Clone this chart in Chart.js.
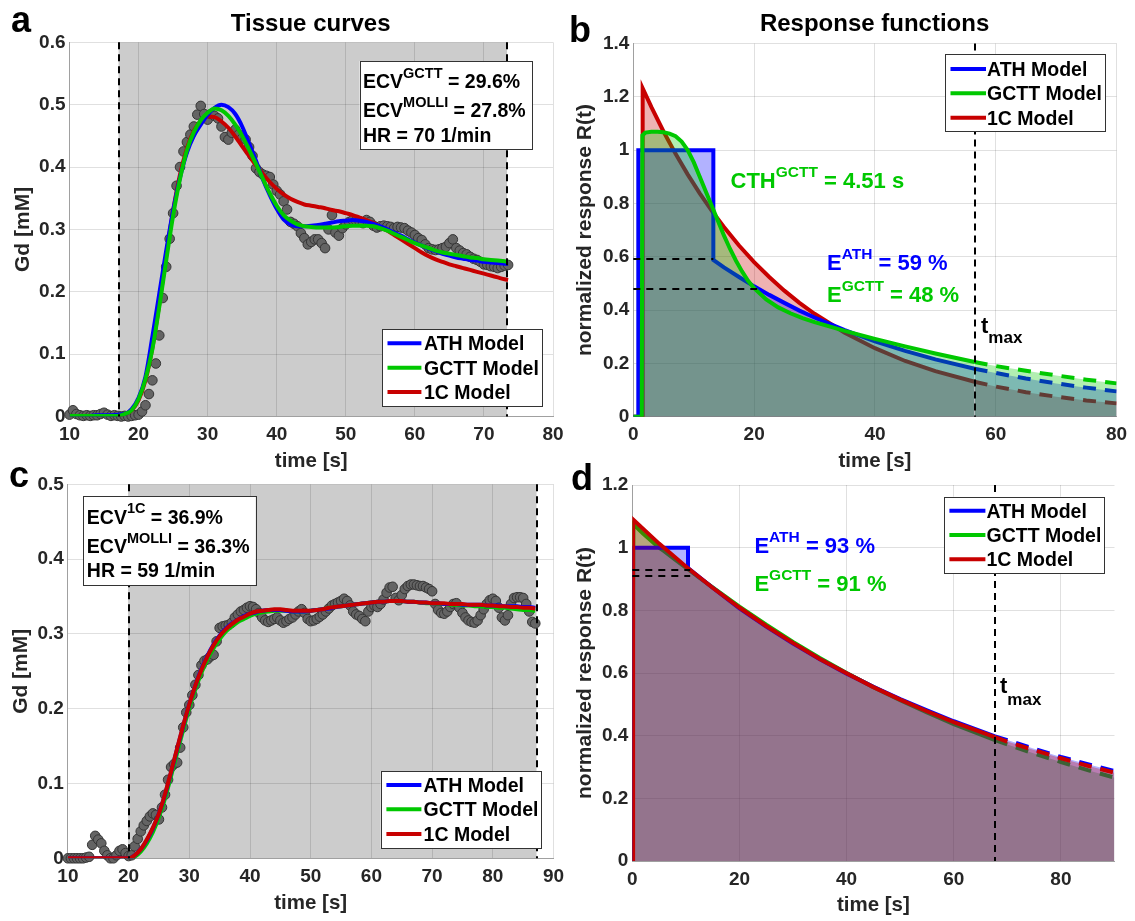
<!DOCTYPE html>
<html>
<head>
<meta charset="utf-8">
<title>Tissue curves and response functions</title>
<script src="https://cdn.jsdelivr.net/npm/chart.js@4.4.1/dist/chart.umd.min.js"></script>
<style>
html,body{margin:0;padding:0;background:#ffffff;}
#wrap{position:relative;width:1135px;height:921px;overflow:hidden;background:#ffffff;}
#wrap canvas{position:absolute;left:0;top:0;}
</style>
</head>
<body>
<div id="wrap">
<canvas id="pa" width="1135" height="921"></canvas>
<canvas id="pb" width="1135" height="921"></canvas>
<canvas id="pc" width="1135" height="921"></canvas>
<canvas id="pd" width="1135" height="921"></canvas>
</div>
<script>
// ---------------- DATA ----------------
const MODEL_LABELS = ['ATH Model', 'GCTT Model', '1C Model'];

// Panel a : tissue curve 1
const A_X_TICKS = [10, 20, 30, 40, 50, 60, 70, 80];
const A_X_LABELS = ['10', '20', '30', '40', '50', '60', '70', '80'];
const A_Y_TICKS = [0, 0.1, 0.2, 0.3, 0.4, 0.5, 0.6];
const A_Y_LABELS = ['0', '0.1', '0.2', '0.3', '0.4', '0.5', '0.6'];
const A_WINDOW = [17.1, 73.35];
const A_PT_T = [
  10,10.5,11,11.5,12,12.5,13,13.5,14,14.5,
  15,15.5,16,16.5,17,17.5,18,18.5,19,19.5,
  20,20.5,21,21.5,22,22.5,23,23.5,24,24.5,
  25,25.5,26,26.5,27,27.5,28,28.5,29,29.5,
  30,30.5,31,31.5,32,32.5,33,33.5,34,34.5,
  35,35.5,36,36.5,37,37.5,38,38.5,39,39.5,
  40,40.5,41,41.5,42,42.5,43,43.5,44,44.5,
  45,45.5,46,46.5,47,47.5,48,48.5,49,49.5,
  50,50.5,51,51.5,52,52.5,53,53.5,54,54.5,
  55,55.5,56,56.5,57,57.5,58,58.5,59,59.5,
  60,60.5,61,61.5,62,62.5,63,63.5,64,64.5,
  65,65.5,66,66.5,67,67.5,68,68.5,69,69.5,
  70,70.5,71,71.5,72,72.5,73,73.5];
const A_PT_Y = [
  0.003,0.010,0.004,0.002,0.001,0.002,0.001,0.002,0.002,0.004,
  0.006,0.003,0.001,0.002,0.001,0.000,0.001,0.000,0.001,0.002,
  0.003,0.008,0.018,0.036,0.058,0.085,0.130,0.190,0.240,0.285,
  0.326,0.370,0.400,0.425,0.440,0.452,0.465,0.484,0.498,0.485,
  0.476,0.485,0.482,0.478,0.465,0.448,0.444,0.455,0.460,0.452,
  0.446,0.444,0.432,0.418,0.398,0.392,0.388,0.386,0.384,0.372,
  0.362,0.356,0.345,0.332,0.312,0.309,0.305,0.294,0.286,0.276,
  0.280,0.284,0.284,0.278,0.270,0.300,0.323,0.295,0.290,0.302,
  0.308,0.312,0.315,0.314,0.313,0.310,0.315,0.312,0.306,0.303,
  0.305,0.306,0.305,0.304,0.302,0.304,0.303,0.302,0.298,0.295,
  0.291,0.286,0.283,0.276,0.270,0.268,0.267,0.268,0.270,0.272,
  0.278,0.284,0.270,0.266,0.262,0.260,0.256,0.253,0.251,0.248,
  0.244,0.243,0.241,0.240,0.238,0.240,0.242,0.243];
const A_FIT_T = [
  10,11,12,13,14,15,16,17,18,19,
  20,21,22,23,24,25,26,27,28,29,
  30,31,32,33,34,35,36,37,38,39,
  40,41,42,43,44,45,46,47,48,49,
  50,51,52,53,54,55,56,57,58,59,
  60,61,62,63,64,65,66,67,68,69,
  70,71,72,73,73.5];
const A_ATH = [
  0.001,0.001,0.001,0.001,0.002,0.002,0.002,0.003,0.004,0.012,
  0.030,0.064,0.128,0.197,0.266,0.330,0.383,0.423,0.450,0.468,
  0.484,0.495,0.500,0.496,0.485,0.465,0.438,0.410,0.380,0.355,
  0.333,0.316,0.308,0.305,0.305,0.306,0.307,0.309,0.311,0.313,
  0.314,0.315,0.314,0.312,0.309,0.305,0.300,0.295,0.290,0.284,
  0.279,0.274,0.269,0.265,0.261,0.258,0.255,0.253,0.251,0.250,
  0.248,0.247,0.246,0.245,0.245];
const A_GCTT = [
  0.001,0.001,0.001,0.001,0.001,0.001,0.001,0.001,0.004,0.010,
  0.028,0.060,0.108,0.176,0.250,0.322,0.381,0.427,0.456,0.475,
  0.487,0.494,0.491,0.482,0.468,0.450,0.428,0.405,0.381,0.358,
  0.338,0.323,0.314,0.308,0.305,0.304,0.303,0.303,0.303,0.304,
  0.305,0.306,0.306,0.306,0.305,0.302,0.298,0.293,0.288,0.283,
  0.278,0.274,0.270,0.266,0.263,0.261,0.259,0.257,0.255,0.254,
  0.252,0.251,0.250,0.249,0.248];
const A_1C = [
  0.001,0.001,0.001,0.001,0.001,0.001,0.001,0.001,0.004,0.010,
  0.026,0.058,0.110,0.180,0.258,0.330,0.388,0.430,0.458,0.474,
  0.481,0.480,0.473,0.463,0.449,0.433,0.418,0.403,0.389,0.376,
  0.365,0.356,0.349,0.344,0.340,0.338,0.336,0.334,0.331,0.329,
  0.326,0.323,0.319,0.315,0.310,0.304,0.298,0.291,0.284,0.277,
  0.270,0.263,0.257,0.252,0.248,0.244,0.241,0.238,0.235,0.232,
  0.229,0.226,0.223,0.220,0.219];
const A_INFO = ['29.6%', '27.8%', '70 1/min'];

// Panel b : response functions 1
const B_X_TICKS = [0, 20, 40, 60, 80];
const B_X_LABELS = ['0', '20', '40', '60', '80'];
const B_Y_TICKS = [0, 0.2, 0.4, 0.6, 0.8, 1, 1.2, 1.4];
const B_Y_LABELS = ['0', '0.2', '0.4', '0.6', '0.8', '1', '1.2', '1.4'];
const B_TMAX = 56.5;
const B_ATH_T = [0, 0.83, 0.83, 13.25, 13.25, 15, 17.5, 20, 22.5, 25, 27.5, 30, 35, 40, 45, 50, 56.5, 60, 65, 70, 75, 80];
const B_ATH   = [0, 0, 1.0, 1.0, 0.588, 0.560, 0.524, 0.489, 0.457, 0.427, 0.398, 0.372, 0.325, 0.283, 0.247, 0.215, 0.180, 0.164, 0.143, 0.125, 0.109, 0.095];
const B_GCTT_T = [0, 1.4, 1.5, 2, 3, 4, 5, 6, 7, 8, 9, 10, 11, 12, 13, 14, 15, 16, 17, 18, 19, 20, 22, 24, 26, 28, 30, 35, 40, 45, 50, 56.5, 60, 65, 70, 75, 80];
const B_GCTT   = [0, 0, 1.055, 1.066, 1.069, 1.069, 1.067, 1.062, 1.052, 1.032, 1.0, 0.955, 0.9, 0.845, 0.79, 0.735, 0.68, 0.63, 0.585, 0.545, 0.51, 0.482, 0.44, 0.41, 0.388, 0.37, 0.355, 0.322, 0.292, 0.264, 0.237, 0.205, 0.19, 0.172, 0.155, 0.139, 0.125];
const B_1C_T = [0, 1.5, 1.55, 3, 5, 7, 9, 11, 13, 15, 17.5, 20, 22.5, 25, 27.5, 30, 35, 40, 45, 50, 56.5, 60, 65, 70, 75, 80];
const B_1C   = [0, 0, 1.232, 1.161, 1.070, 0.986, 0.909, 0.838, 0.772, 0.712, 0.642, 0.580, 0.524, 0.473, 0.427, 0.386, 0.315, 0.257, 0.209, 0.171, 0.131, 0.113, 0.092, 0.075, 0.061, 0.050];
const B_E = [0.59, 0.48];
const B_E_END = [13.25, 20.5];
const B_E_TEXT = ['59 %', '48 %'];
const B_CTH = '4.51 s';

// Panel c : tissue curve 2
const C_X_TICKS = [10, 20, 30, 40, 50, 60, 70, 80, 90];
const C_X_LABELS = ['10', '20', '30', '40', '50', '60', '70', '80', '90'];
const C_Y_TICKS = [0, 0.1, 0.2, 0.3, 0.4, 0.5];
const C_Y_LABELS = ['0', '0.1', '0.2', '0.3', '0.4', '0.5'];
const C_WINDOW = [20, 87.2];
const C_PT_T = [
  10,10.5,11,11.5,12,12.5,13,13.5,14,14.5,
  15,15.5,16,16.5,17,17.5,18,18.5,19,19.5,
  20,20.5,21,21.5,22,22.5,23,23.5,24,24.5,
  25,25.5,26,26.5,27,27.5,28,28.5,29,29.5,
  30,30.5,31,31.5,32,32.5,33,33.5,34,34.5,
  35,35.5,36,36.5,37,37.5,38,38.5,39,39.5,
  40,40.5,41,41.5,42,42.5,43,43.5,44,44.5,
  45,45.5,46,46.5,47,47.5,48,48.5,49,49.5,
  50,50.5,51,51.5,52,52.5,53,53.5,54,54.5,
  55,55.5,56,56.5,57,57.5,58,58.5,59,59.5,
  60,60.5,61,61.5,62,62.5,63,63.5,64,64.5,
  65,65.5,66,66.5,67,67.5,68,68.5,69,69.5,
  70,70.5,71,71.5,72,72.5,73,73.5,74,74.5,
  75,75.5,76,76.5,77,77.5,78,78.5,79,79.5,
  80,80.5,81,81.5,82,82.5,83,83.5,84,84.5,
  85,85.5,86,86.5,87];
const C_PT_Y = [
  0.000,0.000,0.000,0.000,0.000,0.000,0.001,0.002,0.018,0.030,
  0.025,0.020,0.010,0.004,0.000,0.000,0.004,0.010,0.012,0.007,
  0.003,0.004,0.016,0.026,0.036,0.044,0.050,0.056,0.060,0.058,
  0.052,0.068,0.085,0.105,0.122,0.126,0.128,0.148,0.175,0.195,
  0.205,0.218,0.232,0.245,0.258,0.264,0.266,0.270,0.272,0.290,
  0.308,0.310,0.311,0.312,0.315,0.322,0.326,0.330,0.332,0.335,
  0.337,0.336,0.333,0.328,0.322,0.318,0.316,0.318,0.320,0.322,
  0.318,0.315,0.317,0.320,0.322,0.326,0.330,0.333,0.328,0.320,
  0.317,0.318,0.320,0.323,0.326,0.330,0.334,0.338,0.340,0.342,
  0.344,0.347,0.344,0.338,0.330,0.326,0.324,0.320,0.317,0.330,
  0.336,0.338,0.336,0.340,0.346,0.355,0.362,0.363,0.348,0.345,
  0.352,0.360,0.364,0.366,0.366,0.365,0.364,0.364,0.362,0.360,
  0.357,0.340,0.332,0.328,0.327,0.330,0.336,0.340,0.341,0.335,
  0.328,0.322,0.318,0.316,0.315,0.318,0.325,0.333,0.340,0.345,
  0.347,0.344,0.335,0.322,0.318,0.325,0.340,0.348,0.349,0.349,
  0.348,0.340,0.330,0.316,0.314];
const C_FIT_T = [
  10,11,12,13,14,15,16,17,18,19,
  20,21,22,23,24,25,26,27,28,29,
  30,31,32,33,34,35,36,37,38,39,
  40,41,42,43,44,45,46,47,48,49,
  50,51,52,53,54,55,56,57,58,59,
  60,61,62,63,64,65,66,67,68,69,
  70,71,72,73,74,75,76,77,78,79,
  80,81,82,83,84,85,86,87];
const C_ATH = [
  0,0,0,0,0,0,0,0,0,0,
  0.000,0.004,0.012,0.024,0.040,0.060,0.085,0.115,0.146,0.177,
  0.206,0.231,0.253,0.271,0.286,0.298,0.307,0.314,0.319,0.324,
  0.327,0.329,0.331,0.332,0.332,0.332,0.331,0.330,0.330,0.330,
  0.331,0.332,0.333,0.334,0.336,0.337,0.338,0.339,0.340,0.341,
  0.342,0.343,0.343,0.344,0.344,0.344,0.343,0.343,0.342,0.342,
  0.341,0.341,0.340,0.340,0.340,0.339,0.339,0.339,0.339,0.338,
  0.338,0.338,0.337,0.337,0.337,0.336,0.336,0.335];
const C_GCTT = [
  0,0,0,0,0,0,0,0,0,0,
  0.000,0.002,0.009,0.020,0.035,0.055,0.080,0.110,0.141,0.172,
  0.201,0.226,0.248,0.266,0.281,0.293,0.303,0.310,0.316,0.320,
  0.324,0.327,0.329,0.330,0.331,0.331,0.331,0.330,0.330,0.330,
  0.331,0.332,0.333,0.335,0.336,0.337,0.338,0.339,0.340,0.341,
  0.342,0.343,0.343,0.344,0.344,0.344,0.343,0.343,0.342,0.341,
  0.341,0.340,0.340,0.339,0.339,0.338,0.338,0.337,0.337,0.336,
  0.336,0.335,0.335,0.334,0.333,0.332,0.332,0.331];
const C_1C = [
  0,0,0,0,0,0,0,0,0,0,
  0.000,0.004,0.012,0.025,0.041,0.060,0.086,0.116,0.147,0.178,
  0.206,0.231,0.252,0.270,0.285,0.297,0.306,0.313,0.319,0.323,
  0.327,0.330,0.331,0.332,0.333,0.333,0.332,0.331,0.331,0.331,
  0.331,0.332,0.333,0.335,0.336,0.337,0.338,0.339,0.340,0.341,
  0.342,0.343,0.343,0.344,0.344,0.344,0.343,0.343,0.342,0.342,
  0.341,0.341,0.341,0.340,0.340,0.340,0.339,0.339,0.339,0.338,
  0.338,0.337,0.337,0.336,0.336,0.335,0.335,0.334];
const C_INFO = ['36.9%', '36.3%', '59 1/min'];

// Panel d : response functions 2
const D_X_TICKS = [0, 20, 40, 60, 80];
const D_X_LABELS = ['0', '20', '40', '60', '80'];
const D_Y_TICKS = [0, 0.2, 0.4, 0.6, 0.8, 1, 1.2];
const D_Y_LABELS = ['0', '0.2', '0.4', '0.6', '0.8', '1', '1.2'];
const D_TMAX = 67.7;
const D_ATH_T = [0, 0, 10.4, 10.4, 15, 20, 25, 30, 35, 40, 45, 50, 55, 60, 67.7, 70, 75, 80, 85, 90];
const D_ATH   = [0, 1.0, 1.0, 0.935, 0.872, 0.806, 0.748, 0.694, 0.644, 0.598, 0.556, 0.517, 0.481, 0.446, 0.398, 0.386, 0.358, 0.332, 0.309, 0.287];
const D_GCTT_T = [0, 0.2, 1, 2, 3, 4, 5, 6, 8, 10, 12.5, 15, 20, 25, 30, 35, 40, 45, 50, 55, 60, 67.7, 70, 75, 80, 85, 90];
const D_GCTT   = [0, 1.075, 1.062, 1.045, 1.03, 1.015, 1.0, 0.988, 0.962, 0.936, 0.904, 0.873, 0.812, 0.754, 0.699, 0.648, 0.600, 0.555, 0.513, 0.474, 0.437, 0.386, 0.372, 0.343, 0.316, 0.290, 0.266];
const D_1C_T = [0.15, 0.15, 5, 10, 15, 20, 25, 30, 35, 40, 45, 50, 55, 60, 67.7, 70, 75, 80, 85, 90];
const D_1C   = [0, 1.09, 1.013, 0.940, 0.872, 0.809, 0.750, 0.696, 0.645, 0.599, 0.555, 0.515, 0.478, 0.443, 0.395, 0.381, 0.354, 0.328, 0.304, 0.282];
const D_E = [0.93, 0.91];
const D_E_END = [10.8, 10.8];
const D_E_TEXT = ['93 %', '91 %'];

// ---------------- STYLE ----------------
const FONT = '"Liberation Sans", Arial, Helvetica, sans-serif';
const BLUE = '#0000ff', GREEN = '#00c800', RED = '#c80000';
const MODEL_COLORS = [BLUE, GREEN, RED];
const FILL_COLORS = ['rgba(0,0,255,0.3)', 'rgba(0,200,0,0.3)', 'rgba(200,0,0,0.3)'];

function pts(xs, ys) { return xs.map((x, i) => ({x: x, y: ys[i]})); }
function dashAfter(t) {
  return { borderDash: ctx => (ctx.p0.parsed.x >= t - 1e-9 ? [13, 9] : undefined) };
}
function curve(k, xs, ys, order, extra) {
  return Object.assign({
    label: MODEL_LABELS[k], data: pts(xs, ys), borderColor: MODEL_COLORS[k],
    backgroundColor: FILL_COLORS[k], borderWidth: 4, pointRadius: 0, fill: false,
    tension: 0, order: order, borderCapStyle: 'butt'
  }, extra || {});
}
function scatter(xs, ys) {
  return { label: 'data', data: pts(xs, ys), showLine: false, pointRadius: 4.8,
    pointBackgroundColor: '#646464', pointBorderColor: '#353535', pointBorderWidth: 1,
    borderColor: '#353535', backgroundColor: '#646464', order: 10, clip: false };
}

function rich(ctx, x, y, parts, color) {
  ctx.fillStyle = color; ctx.textAlign = 'left'; ctx.textBaseline = 'alphabetic';
  for (const p of parts) {
    ctx.font = 'bold ' + p.s + 'px ' + FONT;
    ctx.fillText(p.t, x, y + (p.dy || 0));
    x += ctx.measureText(p.t).width;
  }
}

function decorPlugin(d) {
  return {
    id: 'decor',
    beforeDraw(chart) {
      if (!d.band) return;
      const ctx = chart.ctx, a = chart.chartArea, x = chart.scales.x;
      const x0 = x.getPixelForValue(d.band[0]), x1 = x.getPixelForValue(d.band[1]);
      ctx.save(); ctx.fillStyle = '#cccccc';
      ctx.fillRect(x0, a.top, x1 - x0, a.bottom - a.top);
      ctx.restore();
    },
    afterDatasetsDraw(chart) {
      const ctx = chart.ctx, a = chart.chartArea, x = chart.scales.x, y = chart.scales.y;
      ctx.save();
      ctx.strokeStyle = '#000'; ctx.lineWidth = 2; ctx.setLineDash([7, 5]);
      for (const v of (d.vlines || [])) {
        const px = Math.round(x.getPixelForValue(v));
        ctx.beginPath(); ctx.moveTo(px, a.top); ctx.lineTo(px, a.bottom); ctx.stroke();
      }
      ctx.setLineDash([7, 6]);
      for (const h of (d.hlines || [])) {
        const py = Math.round(y.getPixelForValue(h.y));
        ctx.beginPath(); ctx.moveTo(x.getPixelForValue(h.x0), py); ctx.lineTo(x.getPixelForValue(h.x1), py); ctx.stroke();
      }
      ctx.setLineDash([]);
      for (const t of (d.texts || [])) rich(ctx, t.x, t.y, t.parts, t.c);
      if (d.box) {
        const b = d.box;
        ctx.fillStyle = '#fff'; ctx.fillRect(b.x, b.y, b.w, b.h);
        ctx.strokeStyle = '#333'; ctx.lineWidth = 1; ctx.strokeRect(Math.round(b.x) + 0.5, Math.round(b.y) + 0.5, Math.round(b.w), Math.round(b.h));
        for (const l of b.lines) rich(ctx, b.tx, l.y, l.parts, '#000');
      }
      if (d.legend) {
        const L = d.legend;
        ctx.fillStyle = '#fff'; ctx.fillRect(L.x, L.y, L.w, L.h);
        ctx.strokeStyle = '#333'; ctx.lineWidth = 1; ctx.strokeRect(Math.round(L.x) + 0.5, Math.round(L.y) + 0.5, Math.round(L.w), Math.round(L.h));
        for (let i = 0; i < MODEL_LABELS.length; i++) {
          ctx.strokeStyle = MODEL_COLORS[i]; ctx.lineWidth = 4;
          ctx.beginPath(); ctx.moveTo(L.s0, L.ys[i]); ctx.lineTo(L.s1, L.ys[i]); ctx.stroke();
          rich(ctx, L.tx, L.ys[i] + 7, [{t: MODEL_LABELS[i], s: 19.5}], '#000');
        }
      }
      ctx.fillStyle = '#000';
      if (d.title) {
        ctx.font = 'bold 24px ' + FONT; ctx.textAlign = 'center'; ctx.textBaseline = 'alphabetic';
        ctx.fillText(d.title.t, d.title.x, d.title.y);
      }
      if (d.letter) {
        ctx.font = 'bold 36px ' + FONT; ctx.textAlign = 'left'; ctx.textBaseline = 'alphabetic';
        ctx.fillText(d.letter.t, d.letter.x, d.letter.y);
      }
      ctx.restore();
    }
  };
}

function build(id, g, datasets, ax, decor) {
  const tickFont = {family: FONT, size: 19, weight: 'bold'};
  return new Chart(document.getElementById(id), {
    type: 'line',
    data: {datasets: datasets},
    options: {
      responsive: false, animation: false, devicePixelRatio: 1, events: [],
      layout: {padding: {left: g.pl, top: g.t, right: 1135 - g.r, bottom: 921 - g.pb}},
      plugins: {legend: {display: false}, tooltip: {enabled: false}},
      scales: {
        x: {
          type: 'linear', min: ax.xmin, max: ax.xmax,
          afterBuildTicks: s => { s.ticks = ax.xt.map(v => ({value: v})); },
          afterFit: s => { s.height = g.pb - g.b; },
          ticks: {font: tickFont, color: '#262626', padding: 7, autoSkip: false, maxRotation: 0,
                  callback: (v, i) => ax.xl[i]},
          grid: {color: 'rgba(0,0,0,0.12)', drawTicks: false},
          border: {color: '#a0a0a0', width: 1},
          title: {display: true, text: 'time [s]', color: '#262626',
                  font: {family: FONT, size: 20.5, weight: 'bold'},
                  padding: {top: 0, bottom: g.pb - g.xtc - 12.3}}
        },
        y: {
          type: 'linear', min: ax.ymin, max: ax.ymax,
          afterBuildTicks: s => { s.ticks = ax.yt.map(v => ({value: v})); },
          afterFit: s => { s.width = g.l - g.pl; },
          ticks: {font: tickFont, color: '#262626', padding: 4, autoSkip: false,
                  callback: (v, i) => ax.yl[i]},
          grid: {color: 'rgba(0,0,0,0.12)', drawTicks: false},
          border: {color: '#a0a0a0', width: 1},
          title: {display: true, text: ax.ytitle, color: '#262626',
                  font: {family: FONT, size: 21, weight: 'bold'},
                  padding: {top: g.ytc - g.pl - 12.6, bottom: 0}}
        }
      }
    },
    plugins: [decorPlugin(decor)]
  });
}

const S = 19.5, SUP = 14.5, T2 = 22, SUP2 = 15.5;

// ---------------- PANEL A ----------------
build('pa',
  {pl: 0, l: 69.5, t: 42.3, r: 553, b: 416.5, pb: 480, xtc: 461, ytc: 23},
  [
    scatter(A_PT_T, A_PT_Y),
    curve(1, A_FIT_T, A_GCTT, 1, {cubicInterpolationMode: 'monotone'}),
    curve(0, A_FIT_T, A_ATH, 2, {cubicInterpolationMode: 'monotone'}),
    curve(2, A_FIT_T, A_1C, 3, {cubicInterpolationMode: 'monotone'})
  ],
  {xmin: 10, xmax: 80, ymin: 0, ymax: 0.6, xt: A_X_TICKS, xl: A_X_LABELS, yt: A_Y_TICKS, yl: A_Y_LABELS, ytitle: 'Gd [mM]'},
  {
    band: A_WINDOW, vlines: A_WINDOW,
    box: {x: 359.6, y: 61, w: 172.4, h: 88, tx: 363, lines: [
      {y: 88, parts: [{t: 'ECV', s: S}, {t: 'GCTT', s: SUP, dy: -10}, {t: ' = ' + A_INFO[0], s: S}]},
      {y: 117, parts: [{t: 'ECV', s: S}, {t: 'MOLLI', s: SUP, dy: -10}, {t: ' = ' + A_INFO[1], s: S}]},
      {y: 142, parts: [{t: 'HR = ' + A_INFO[2], s: S}]}
    ]},
    legend: {x: 382, y: 329, w: 160, h: 77, s0: 387.5, s1: 421.4, tx: 424, ys: [343.3, 367.7, 392]},
    title: {t: 'Tissue curves', x: 310.7, y: 30.5},
    letter: {t: 'a', x: 11, y: 32}
  });

// ---------------- PANEL B ----------------
build('pb',
  {pl: 567, l: 633.3, t: 43.5, r: 1116.6, b: 416.7, pb: 480, xtc: 461, ytc: 585.7},
  [
    curve(1, B_GCTT_T, B_GCTT, 1, {fill: 'origin', segment: dashAfter(B_TMAX)}),
    curve(0, B_ATH_T, B_ATH, 2, {fill: 'origin', borderJoinStyle: 'miter', segment: dashAfter(B_TMAX)}),
    curve(2, B_1C_T, B_1C, 3, {fill: 'origin', segment: dashAfter(B_TMAX)})
  ],
  {xmin: 0, xmax: 80, ymin: 0, ymax: 1.4, xt: B_X_TICKS, xl: B_X_LABELS, yt: B_Y_TICKS, yl: B_Y_LABELS, ytitle: 'normalized response R(t)'},
  {
    vlines: [B_TMAX],
    hlines: [{y: B_E[0], x0: 0, x1: B_E_END[0]}, {y: B_E[1], x0: 0, x1: B_E_END[1]}],
    texts: [
      {x: 730.5, y: 188.3, c: GREEN, parts: [{t: 'CTH', s: T2}, {t: 'GCTT', s: SUP2, dy: -11}, {t: ' = ' + B_CTH, s: T2}]},
      {x: 827, y: 270, c: BLUE, parts: [{t: 'E', s: T2}, {t: 'ATH', s: SUP2, dy: -11}, {t: ' = ' + B_E_TEXT[0], s: T2}]},
      {x: 827, y: 301.7, c: GREEN, parts: [{t: 'E', s: T2}, {t: 'GCTT', s: SUP2, dy: -11}, {t: ' = ' + B_E_TEXT[1], s: T2}]},
      {x: 981, y: 333, c: '#000', parts: [{t: 't', s: T2}, {t: 'max', s: 17, dy: 10}]}
    ],
    legend: {x: 945, y: 54, w: 160, h: 77, s0: 950.5, s1: 986, tx: 987, ys: [69, 93.3, 117.7]},
    title: {t: 'Response functions', x: 874.6, y: 30.5},
    letter: {t: 'b', x: 569, y: 41.7}
  });

// ---------------- PANEL C ----------------
build('pc',
  {pl: 0, l: 67.9, t: 484.3, r: 553.5, b: 858.3, pb: 921, xtc: 903, ytc: 21.4},
  [
    scatter(C_PT_T, C_PT_Y),
    curve(2, C_FIT_T, C_1C, 1, {cubicInterpolationMode: 'monotone'}),
    curve(0, C_FIT_T, C_ATH, 2, {cubicInterpolationMode: 'monotone'}),
    curve(1, C_FIT_T, C_GCTT, 3, {cubicInterpolationMode: 'monotone'})
  ],
  {xmin: 10, xmax: 90, ymin: 0, ymax: 0.5, xt: C_X_TICKS, xl: C_X_LABELS, yt: C_Y_TICKS, yl: C_Y_LABELS, ytitle: 'Gd [mM]'},
  {
    band: C_WINDOW, vlines: C_WINDOW,
    box: {x: 83.2, y: 496, w: 172.5, h: 89, tx: 86.8, lines: [
      {y: 524, parts: [{t: 'ECV', s: S}, {t: '1C', s: SUP, dy: -11}, {t: ' = ' + C_INFO[0], s: S}]},
      {y: 552.7, parts: [{t: 'ECV', s: S}, {t: 'MOLLI', s: SUP, dy: -10}, {t: ' = ' + C_INFO[1], s: S}]},
      {y: 577.3, parts: [{t: 'HR = ' + C_INFO[2], s: S}]}
    ]},
    legend: {x: 380.7, y: 771, w: 160.3, h: 77, s0: 386.4, s1: 421.4, tx: 423.6, ys: [785, 809.3, 834]},
    letter: {t: 'c', x: 9, y: 487}
  });

// ---------------- PANEL D ----------------
build('pd',
  {pl: 567, l: 632.3, t: 485, r: 1114.5, b: 861, pb: 921, xtc: 905, ytc: 585.7},
  [
    curve(2, D_1C_T, D_1C, 1, {fill: 'origin', segment: dashAfter(D_TMAX)}),
    curve(0, D_ATH_T, D_ATH, 2, {fill: 'origin', borderJoinStyle: 'miter', segment: dashAfter(D_TMAX)}),
    curve(1, D_GCTT_T, D_GCTT, 3, {fill: 'origin', segment: dashAfter(D_TMAX)})
  ],
  {xmin: 0, xmax: 90, ymin: 0, ymax: 1.2, xt: D_X_TICKS, xl: D_X_LABELS, yt: D_Y_TICKS, yl: D_Y_LABELS, ytitle: 'normalized response R(t)'},
  {
    vlines: [D_TMAX],
    hlines: [{y: D_E[0], x0: 0, x1: D_E_END[0]}, {y: D_E[1], x0: 0, x1: D_E_END[1]}],
    texts: [
      {x: 754.4, y: 553.3, c: BLUE, parts: [{t: 'E', s: T2}, {t: 'ATH', s: SUP2, dy: -11}, {t: ' = ' + D_E_TEXT[0], s: T2}]},
      {x: 754.4, y: 590.7, c: GREEN, parts: [{t: 'E', s: T2}, {t: 'GCTT', s: SUP2, dy: -11}, {t: ' = ' + D_E_TEXT[1], s: T2}]},
      {x: 1000, y: 693.3, c: '#000', parts: [{t: 't', s: T2}, {t: 'max', s: 17, dy: 11.5}]}
    ],
    legend: {x: 944.3, y: 496.7, w: 159.7, h: 76.3, s0: 949.4, s1: 985.4, tx: 986.5, ys: [510.7, 535, 559.3]},
    letter: {t: 'd', x: 571, y: 490}
  });
</script>
</body>
</html>
